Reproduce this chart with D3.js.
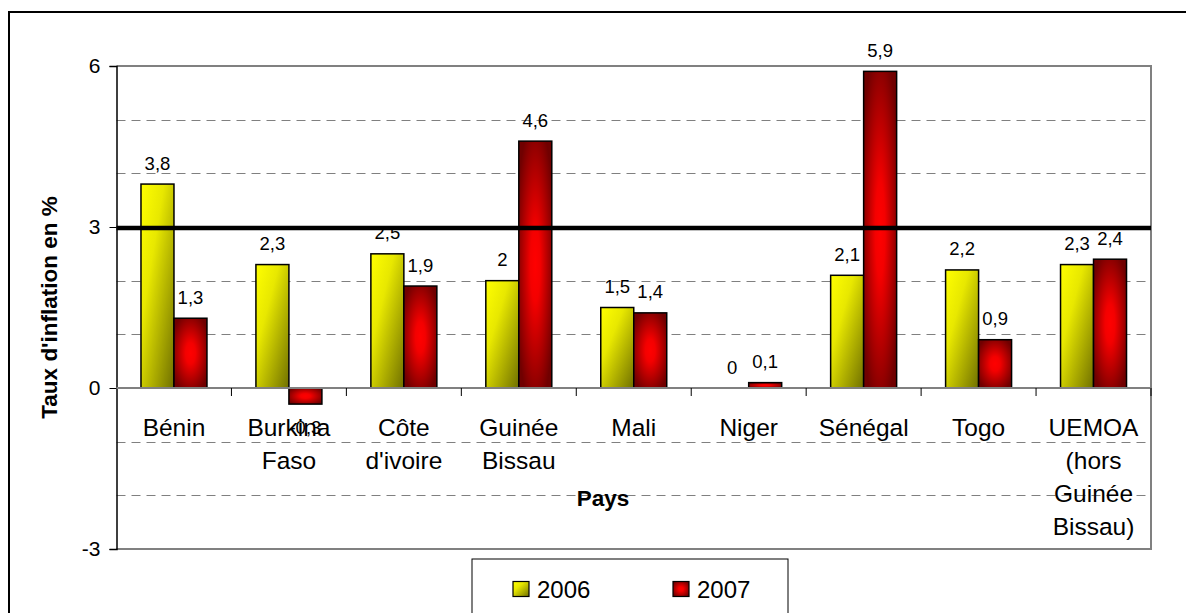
<!DOCTYPE html>
<html>
<head>
<meta charset="utf-8">
<script src="https://cdn.jsdelivr.net/npm/d3@7"></script>
<style>
  html, body { margin: 0; padding: 0; background: #fff; }
  svg { display: block; font-family: "Liberation Sans", Arial, sans-serif; }
</style>
</head>
<body>
<svg id="chart" width="1186" height="613"></svg>
<script>
const categories = ["Bénin", "Burkina\nFaso", "Côte\nd'ivoire", "Guinée\nBissau", "Mali", "Niger", "Sénégal", "Togo", "UEMOA\n(hors\nGuinée\nBissau)"];
const series = ["2006", "2007"];
const values2006 = [3.8, 2.3, 2.5, 2, 1.5, 0, 2.1, 2.2, 2.3];
const values2007 = [1.3, -0.3, 1.9, 4.6, 1.4, 0.1, 5.9, 0.9, 2.4];
const yTicks = [-3, 0, 3, 6];
const gridValues = [-2, -1, 1, 2, 4, 5];
const thresholdValue = [3];
const yTitle = "Taux d'inflation en %";
const xTitle = "Pays";

const svg = d3.select("#chart");
const plot = { left: 116.5, right: 1151, top: 66, bottom: 549 };

// gradients
const defs = svg.append("defs");
const gy = defs.append("linearGradient").attr("id", "gYellow")
  .attr("x1", 0).attr("y1", 0).attr("x2", 1).attr("y2", 1);
gy.append("stop").attr("offset", "0%").attr("stop-color", "#ffff00");
gy.append("stop").attr("offset", "35%").attr("stop-color", "#e8e800");
gy.append("stop").attr("offset", "100%").attr("stop-color", "#707000");
const gr = defs.append("radialGradient").attr("id", "gRed")
  .attr("cx", 0.5).attr("cy", 0.5).attr("r", 0.6);
gr.append("stop").attr("offset", "0%").attr("stop-color", "#ff0000");
gr.append("stop").attr("offset", "25%").attr("stop-color", "#f40000");
gr.append("stop").attr("offset", "100%").attr("stop-color", "#700000");
const fills = { "2006": "url(#gYellow)", "2007": "url(#gRed)" };

// outer frame
svg.append("rect").attr("x", 9).attr("y", 12).attr("width", 1200).attr("height", 640)
  .attr("fill", "none").attr("stroke", "#000").attr("stroke-width", 2);

const y = d3.scaleLinear().domain([-3, 6]).range([plot.bottom, plot.top]);
const x = d3.scaleBand().domain(categories).range([plot.left, plot.right]).padding(0);
const x1 = d3.scaleBand().domain(series).range([0, x.bandwidth()]).paddingInner(0).paddingOuter(0.742);

// gridlines
svg.append("g").selectAll("line").data(gridValues).join("line")
  .attr("x1", plot.left).attr("x2", plot.right)
  .attr("y1", d => Math.round(y(d)) + 0.5).attr("y2", d => Math.round(y(d)) + 0.5)
  .attr("stroke", "#808080").attr("stroke-width", 1).attr("stroke-dasharray", "9,6");

// plot border (top, right, bottom)
svg.append("path")
  .attr("d", `M${plot.left},${y(6)}H${plot.right}V${y(-3)}H${plot.left}`)
  .attr("fill", "none").attr("stroke", "#808080").attr("stroke-width", 2);

// y axis
const yAxis = d3.axisLeft(y).tickValues(yTicks).tickSize(7).tickPadding(9)
  .tickFormat(d => String(d));
const gY = svg.append("g").attr("transform", `translate(${plot.left},0)`).call(yAxis);
gY.select(".domain").attr("stroke", "#000").attr("stroke-width", 1.5);
gY.selectAll(".tick line").attr("stroke", "#000");
gY.selectAll(".tick text").attr("font-size", 21).attr("fill", "#000")
  .attr("font-family", "'Liberation Sans', Arial, sans-serif");

// bars
const rows = categories.map((c, i) => ({ cat: c, vals: [
  { s: "2006", v: values2006[i] }, { s: "2007", v: values2007[i] }] }));
const groups = svg.append("g").selectAll("g").data(rows).join("g")
  .attr("transform", d => `translate(${x(d.cat)},0)`);
groups.selectAll("rect").data(d => d.vals.filter(e => e.v !== 0)).join("rect")
  .attr("x", d => x1(d.s))
  .attr("width", x1.bandwidth())
  .attr("y", d => y(Math.max(0, d.v)))
  .attr("height", d => Math.abs(y(d.v) - y(0)))
  .attr("fill", d => fills[d.s])
  .attr("stroke", "#000").attr("stroke-width", 1.5);

// x axis line at zero
svg.append("line").attr("x1", plot.left).attr("x2", plot.right)
  .attr("y1", y(0)).attr("y2", y(0)).attr("stroke", "#808080").attr("stroke-width", 2);
const bounds = categories.map(c => x(c)).concat([plot.right]);
svg.append("g").selectAll("line").data(bounds.slice(1)).join("line")
  .attr("x1", d => d).attr("x2", d => d).attr("y1", y(0)).attr("y2", y(0) + 8)
  .attr("stroke", "#000").attr("stroke-width", 1);

// category labels
const catG = svg.append("g").selectAll("text").data(categories).join("text")
  .attr("x", d => x(d) + x.bandwidth() / 2)
  .attr("y", y(0) + 48)
  .attr("text-anchor", "middle").attr("font-size", 24.5).attr("fill", "#000");
catG.each(function(d) {
  const t = d3.select(this);
  d.split("\n").forEach((line, i) => {
    t.append("tspan").attr("x", x(d) + x.bandwidth() / 2).attr("dy", i === 0 ? 0 : 33).text(line);
  });
});

// threshold line
svg.append("g").selectAll("line").data(thresholdValue).join("line")
  .attr("x1", plot.left).attr("x2", plot.right)
  .attr("y1", d => y(d) + 1).attr("y2", d => y(d) + 1)
  .attr("stroke", "#000").attr("stroke-width", 4.5);

// data labels
groups.selectAll("text.lbl").data(d => d.vals).join("text").attr("class", "lbl")
  .attr("x", d => x1(d.s) + x1.bandwidth() / 2)
  .attr("y", d => d.v >= 0 ? y(d.v) - 14.5 : y(d.v) + 30)
  .attr("text-anchor", "middle").attr("font-size", 18.5).attr("fill", "#000")
  .text(d => String(d.v).replace(".", ","));

// titles
svg.append("text").attr("x", 603).attr("y", 506)
  .attr("text-anchor", "middle").attr("font-size", 22.5).attr("font-weight", "bold")
  .text(xTitle);
svg.append("text").attr("transform", `translate(57,${(plot.top + plot.bottom) / 2}) rotate(-90)`)
  .attr("text-anchor", "middle").attr("font-size", 22.5).attr("font-weight", "bold")
  .text(yTitle);

// legend
const lg = svg.append("g");
lg.append("rect").attr("x", 472).attr("y", 559).attr("width", 316).attr("height", 80)
  .attr("fill", "#fff").attr("stroke", "#000").attr("stroke-width", 1);
const legX = [513, 673];
series.forEach((s, i) => {
  lg.append("rect").attr("x", legX[i]).attr("y", 581.5).attr("width", 16).attr("height", 15)
    .attr("fill", fills[s]).attr("stroke", "#000").attr("stroke-width", 1.2);
  lg.append("text").attr("x", legX[i] + 24).attr("y", 598).attr("font-size", 24).text(s);
});
</script>
</body>
</html>
